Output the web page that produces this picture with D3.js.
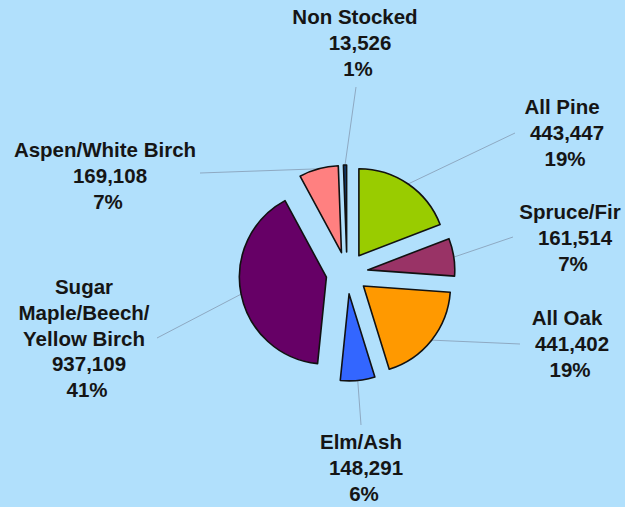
<!DOCTYPE html>
<html>
<head>
<meta charset="utf-8">
<script src="https://cdn.jsdelivr.net/npm/d3@7/dist/d3.min.js"></script>
<style>
html,body{margin:0;padding:0;background:#B1E0FC;}
svg{display:block;}
text{font-family:"Liberation Sans",Arial,sans-serif;font-weight:bold;fill:#151515;}
</style>
</head>
<body>
<svg id="chart" width="625" height="507"></svg>
<script>
// ---- data ----
const categories = ["All Pine","Spruce/Fir","All Oak","Elm/Ash","Sugar Maple/Beech/Yellow Birch","Aspen/White Birch","Non Stocked"];
const nameLines = [["All Pine"],["Spruce/Fir"],["All Oak"],["Elm/Ash"],["Sugar","Maple/Beech/","Yellow Birch"],["Aspen/White Birch"],["Non Stocked"]];
const values = [443447,161514,441402,148291,937109,169108,13526];
const valueLabels = ["443,447","161,514","441,402","148,291","937,109","169,108","13,526"];
const percentLabels = ["19%","7%","19%","6%","41%","7%","1%"];
const colors = ["#99CC00","#993366","#FF9900","#3366FF","#660066","#FF8080","#123F73"];

// ---- layout ----
const W = 625, H = 507;
const cx = 347, cy = 273, R = 87, explode = 21;
// label anchors: [center x, first baseline y], leader end near label [x,y]
const labelPos = [[562,114],[570,219],[567,325],[361,449],[84,294],[105,157],[355,24]];
const leaderEnd = [[515,133],[513,237],[520,344],[361,425],[157,338],[200,173],[356,87]];
const lineH = 25.8;

const svg = d3.select("#chart");
svg.append("rect").attr("width",W).attr("height",H).attr("fill","#B1E0FC");

const pie = d3.pie().sort(null).value(d => d.v).startAngle(0).endAngle(2*Math.PI);
const data = values.map((v,i) => ({v, i}));
const arcs = pie(data);
const arc = d3.arc().innerRadius(0).outerRadius(R);

const g = svg.append("g").attr("transform", `translate(${cx},${cy})`);

// leader lines
arcs.forEach((a, k) => {
  const mid = (a.startAngle + a.endAngle) / 2;
  const ox = explode * Math.sin(mid), oy = -explode * Math.cos(mid);
  const px = cx + ox + R * Math.sin(mid), py = cy + oy - R * Math.cos(mid);
  svg.insert("line", "g")
    .attr("x1", px).attr("y1", py)
    .attr("x2", leaderEnd[k][0]).attr("y2", leaderEnd[k][1])
    .attr("stroke", "#8EA9C2").attr("stroke-width", 1);
});

// slices
g.selectAll("path").data(arcs).enter().append("path")
  .attr("d", arc)
  .attr("transform", d => {
    const mid = (d.startAngle + d.endAngle) / 2;
    return `translate(${explode*Math.sin(mid)},${-explode*Math.cos(mid)})`;
  })
  .attr("fill", d => colors[d.data.i])
  .attr("stroke", "#111")
  .attr("stroke-width", 1.6)
  .attr("stroke-linejoin", "round");

// labels
categories.forEach((c, k) => {
  const lines = nameLines[k].map(t => ({t, dx:0}))
    .concat([{t:valueLabels[k], dx:5},{t:percentLabels[k], dx:3}]);
  const t = svg.append("text").attr("text-anchor","middle").style("font-size","20.5px");
  lines.forEach((ln, j) => {
    t.append("tspan")
      .attr("x", labelPos[k][0] + ln.dx)
      .attr("y", labelPos[k][1] + j * lineH)
      .text(ln.t);
  });
});
</script>
</body>
</html>
